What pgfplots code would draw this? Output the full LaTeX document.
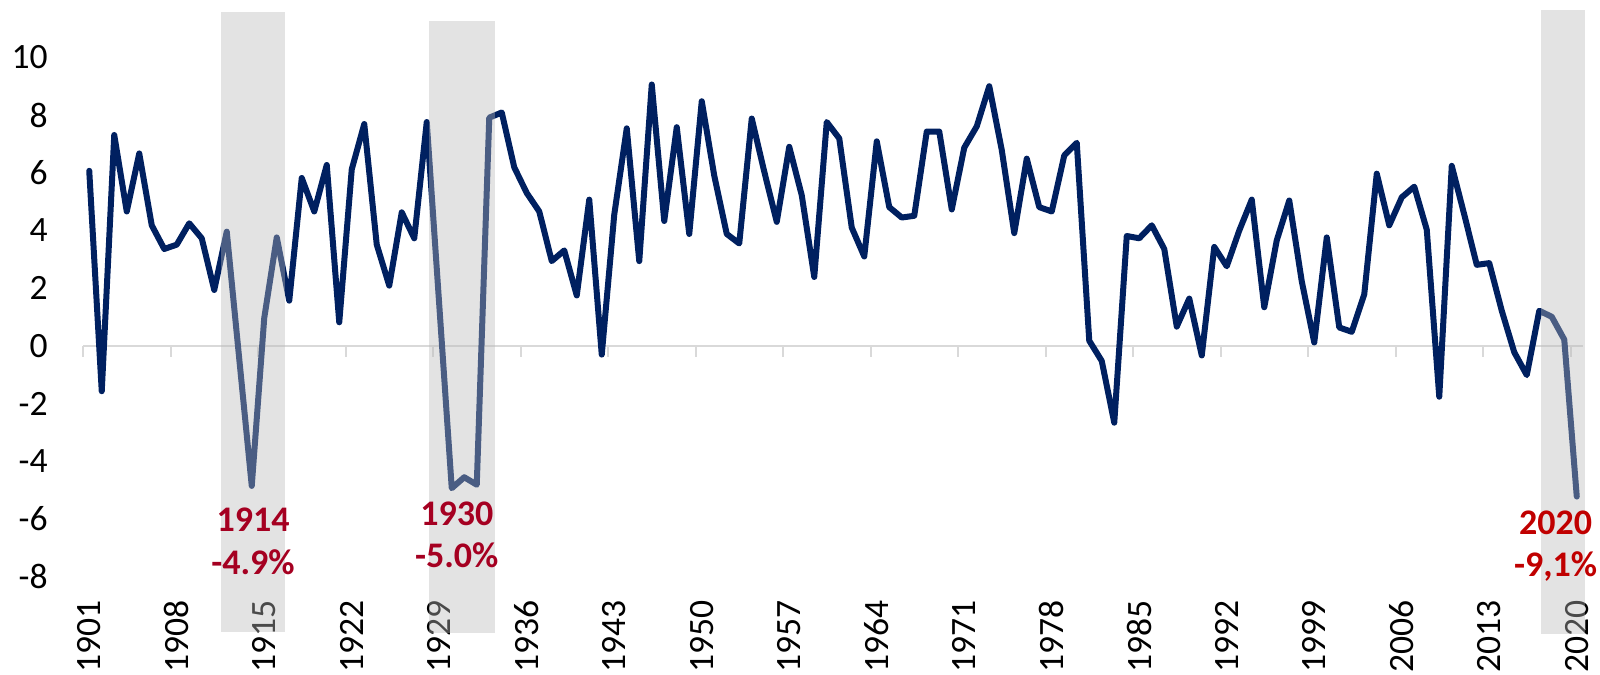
\documentclass[border=0pt]{standalone}
\usepackage{pgfplots}
\pgfplotsset{compat=1.18}
\usepackage{fontspec}
\setmainfont{Carlito}
\definecolor{navy}{HTML}{002060}
\definecolor{axgray}{HTML}{D9D9D9}
\definecolor{annred}{HTML}{A50021}
\definecolor{annredb}{HTML}{C00000}
\definecolor{shadegray}{RGB}{185,185,185}

\pgfplotstableread{
year val
1901 6.07
1902 -1.57
1903 7.31
1904 4.66
1905 6.67
1906 4.18
1907 3.36
1908 3.51
1909 4.25
1910 3.73
1911 1.94
1912 3.96
1913 -0.45
1914 -4.85
1915 0.97
1916 3.76
1917 1.57
1918 5.82
1919 4.66
1920 6.27
1921 0.82
1922 6.12
1923 7.69
1924 3.51
1925 2.09
1926 4.63
1927 3.73
1928 7.76
1929 1.42
1930 -4.93
1931 -4.55
1932 -4.81
1933 7.91
1934 8.09
1935 6.19
1936 5.30
1937 4.66
1938 2.94
1939 3.31
1940 1.75
1941 5.07
1942 -0.30
1943 4.55
1944 7.54
1945 2.94
1946 9.06
1947 4.33
1948 7.58
1949 3.88
1950 8.48
1951 5.90
1952 3.88
1953 3.55
1954 7.88
1955 6.04
1956 4.30
1957 6.90
1958 5.22
1959 2.39
1960 7.76
1961 7.19
1962 4.10
1963 3.10
1964 7.09
1965 4.81
1966 4.45
1967 4.51
1968 7.43
1969 7.43
1970 4.73
1971 6.87
1972 7.61
1973 9.00
1974 6.79
1975 3.91
1976 6.49
1977 4.81
1978 4.66
1979 6.60
1980 7.04
1981 0.18
1982 -0.52
1983 -2.66
1984 3.81
1985 3.73
1986 4.18
1987 3.36
1988 0.67
1989 1.64
1990 -0.33
1991 3.43
1992 2.76
1993 4.00
1994 5.07
1995 1.34
1996 3.66
1997 5.04
1998 2.24
1999 0.12
2000 3.76
2001 0.64
2002 0.49
2003 1.79
2004 5.97
2005 4.18
2006 5.15
2007 5.52
2008 4.03
2009 -1.76
2010 6.24
2011 4.55
2012 2.81
2013 2.87
2014 1.22
2015 -0.22
2016 -1.01
2017 1.22
2018 1.01
2019 0.22
2020 -5.22
}\gdpdata

\begin{document}
\begin{tikzpicture}
\begin{axis}[
  set layers,
  scale only axis,
  width=750pt, height=296.5pt,
  xmin=1900.5, xmax=2020.5,
  ymin=-8.6, ymax=11.95,
  clip=false,
  axis line style={draw=none},
  major tick style={draw=none},
  xtick={1901,1908,...,2020},
  xticklabels={1901,1908,1915,1922,1929,1936,1943,1950,1957,1964,1971,1978,1985,1992,1999,2006,2013,2020},
  ytick={-8,-6,-4,-2,0,2,4,6,8,10},
  yticklabels={-8,-6,-4,-2,0,2,4,6,8,10},
  tick label style={font=\fontsize{17.8}{21}\selectfont, text=black},
  xticklabel style={rotate=90, anchor=east, inner xsep=3pt},
  yticklabel style={anchor=east, inner xsep=0pt, xshift=-17.5pt},
]
\draw[axgray, line width=1.2pt] (axis cs:1900.5,0) -- (axis cs:2020.5,0);
\pgfplotsinvokeforeach{1900.5,1907.5,1914.5,1921.5,1928.5,1935.5,1942.5,1949.5,1956.5,1963.5,1970.5,1977.5,1984.5,1991.5,1998.5,2005.5,2012.5,2019.5}{
  \draw[axgray, line width=1pt] (axis cs:#1,0) -- ([yshift=-5.5pt]axis cs:#1,0);
}
\addplot[navy, line width=3pt, line join=round, line cap=round, no marks] table[x=year, y=val] {\gdpdata};
\fill[shadegray, opacity=0.4] (axis cs:1911.54,-9.91) rectangle (axis cs:1916.66,11.57);
\fill[shadegray, opacity=0.4] (axis cs:1928.16,-9.95) rectangle (axis cs:1933.46,11.25);
\fill[shadegray, opacity=0.4] (axis cs:2017.1,-9.98) rectangle (axis cs:2020.66,11.64);
\node[font=\bfseries\fontsize{18}{21}\selectfont, text=annred] at (axis cs:1914.1,-6.03) {1914};
\node[font=\bfseries\fontsize{18}{21}\selectfont, text=annred] at (axis cs:1914.1,-7.48) {-4.9\%};
\node[font=\bfseries\fontsize{18}{21}\selectfont, text=annred] at (axis cs:1930.4,-5.82) {1930};
\node[font=\bfseries\fontsize{18}{21}\selectfont, text=annred] at (axis cs:1930.4,-7.27) {-5.0\%};
\node[font=\bfseries\fontsize{18}{21}\selectfont, text=annredb] at (axis cs:2018.3,-6.13) {2020};
\node[font=\bfseries\fontsize{18}{21}\selectfont, text=annredb] at (axis cs:2018.3,-7.66) {-9,1\%};
\end{axis}
\pgfresetboundingbox
\path[use as bounding box] ([shift={(-41.5pt,-40.4pt)}]current axis.south west) rectangle ([shift={(8.5pt,0.55pt)}]current axis.north east);
\end{tikzpicture}
\end{document}
